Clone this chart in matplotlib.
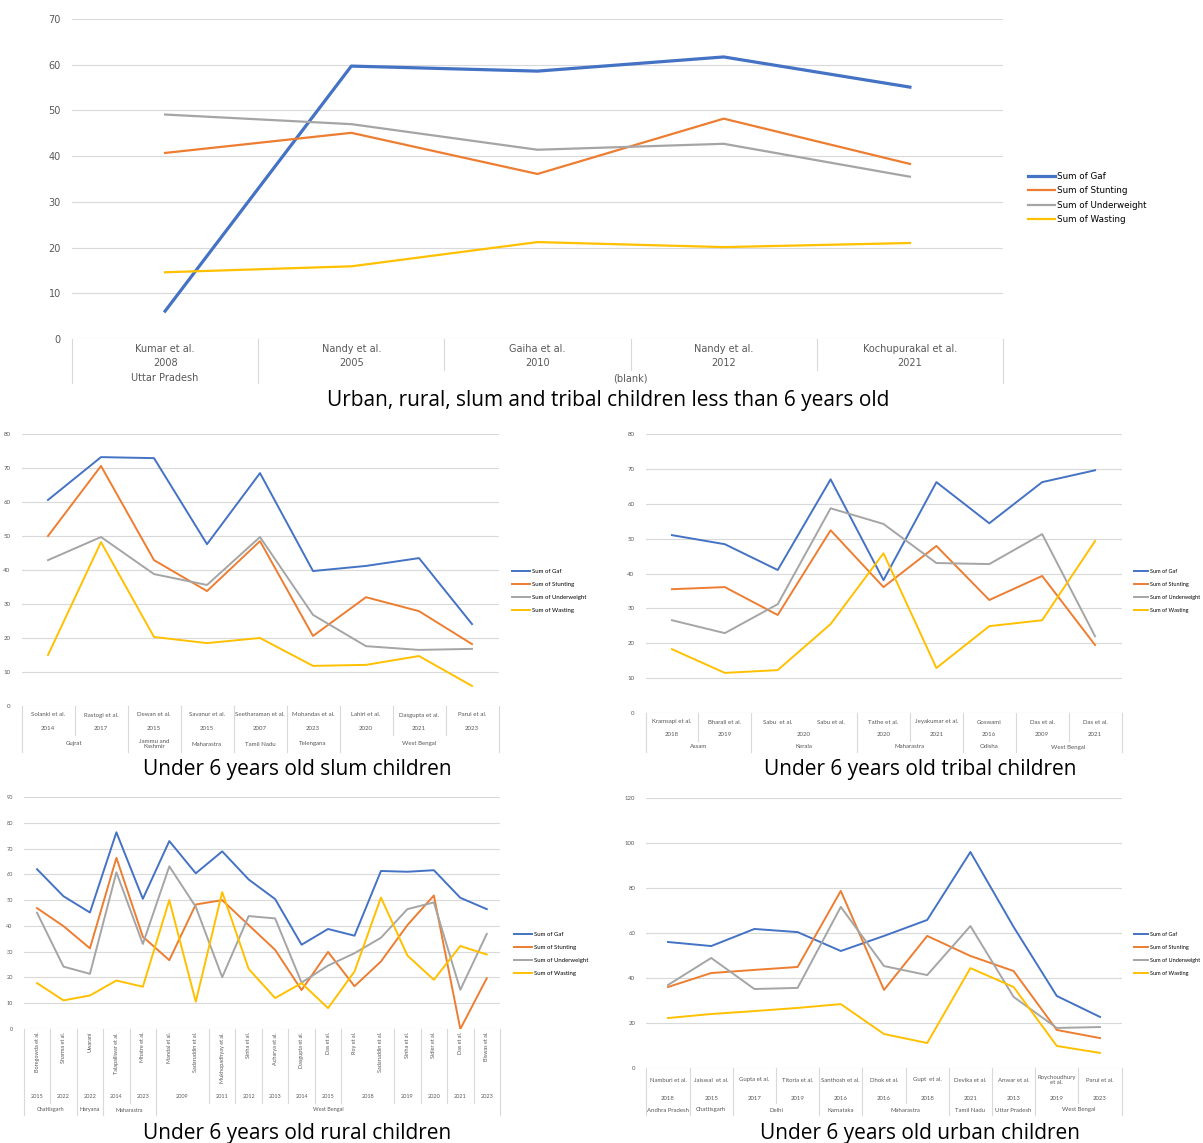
import matplotlib
matplotlib.use('Agg')
from matplotlib import pyplot as plt
from matplotlib import transforms

# ---- data ----
top_names = ['Kumar et al.', 'Nandy et al.', 'Gaiha et al.', 'Nandy et al.', 'Kochupurakal et al.']
top_years = ['2008', '2005', '2010', '2012', '2021']
top_states = ['Uttar Pradesh', '(blank)', '(blank)', '(blank)', '(blank)']
top_gaf = [6.1, 59.7, 58.6, 61.7, 55.1]
top_stunting = [40.7, 45.1, 36.1, 48.2, 38.3]
top_underweight = [49.1, 47.0, 41.4, 42.7, 35.5]
top_wasting = [14.6, 15.9, 21.2, 20.1, 21.0]

slum_names = ['Solanki et al.', 'Rastogi et al.', 'Dewan et al.', 'Savanur et al.', 'Seetharaman et al.',
              'Mohandas et al.', 'Lahiri et al.', 'Dasgupta et al.', 'Parui et al.']
slum_years = ['2014', '2017', '2015', '2015', '2007', '2023', '2020', '2021', '2023']
slum_states = ['Gujrat', 'Gujrat', 'Jammu and\nKashmir', 'Maharastra', 'Tamil Nadu', 'Telengana',
               'West Bengal', 'West Bengal', 'West Bengal']
slum_gaf = [60.6, 73.2, 72.9, 47.6, 68.5, 39.7, 41.2, 43.5, 24.1]
slum_stunting = [50.0, 70.6, 42.9, 33.8, 48.5, 20.6, 32.0, 27.9, 18.2]
slum_underweight = [42.9, 49.7, 38.8, 35.6, 49.7, 26.8, 17.6, 16.5, 16.8]
slum_wasting = [15.0, 48.2, 20.3, 18.5, 20.0, 11.8, 12.1, 14.7, 5.9]

tribal_names = ['Kramsapi et al.', 'Bharali et al.', 'Sabu  et al.', 'Sabu et al.', 'Tathe et al.',
                'Jeyakumar et al.', 'Goswami', 'Das et al.', 'Das et al.']
tribal_years = ['2018', '2019', '2020', '2020', '2020', '2021', '2016', '2009', '2021']
tribal_states = ['Assam', 'Assam', 'Kerala', 'Kerala', 'Maharastra', 'Maharastra', 'Odisha',
                 'West Bengal', 'West Bengal']
tribal_gaf = [51.0, 48.4, 41.0, 67.0, 38.1, 66.2, 54.4, 66.2, 69.6]
tribal_stunting = [35.5, 36.1, 28.1, 52.4, 36.1, 47.9, 32.4, 39.3, 19.5]
tribal_underweight = [26.6, 22.9, 31.2, 58.7, 54.2, 43.0, 42.7, 51.3, 22.0]
tribal_wasting = [18.3, 11.5, 12.3, 25.5, 45.8, 12.9, 24.9, 26.6, 49.3]

rural_names = ['Boregowda et al.', 'Sharma et al.', 'Uwarani', 'Talapalliwar et al.', 'Mhatre et al.',
               'Mandal et al.', 'Sadaruddin et al.', 'Mukhopadhyay et al.', 'Sinha et al.', 'Acharya et al.',
               'Dasgupta et al.', 'Das et al.', 'Roy et al.', 'Sadaruddin et al.', 'Sinha et al.',
               'Sidler et al.', 'Das et al.', 'Biswas et al.']
rural_years = ['2015', '2022', '2022', '2014', '2023', '2009', '2009', '2011', '2012', '2013',
               '2014', '2015', '2018', '2018', '2019', '2020', '2021', '2023']
rural_states = ['Chattisgarh', 'Chattisgarh', 'Haryana', 'Maharastra', 'Maharastra'] + ['West Bengal'] * 13
rural_gaf = [62.0, 51.5, 45.2, 76.3, 50.5, 72.9, 60.4, 68.9, 58.0, 50.4, 32.7, 38.8, 36.2, 61.3,
             61.0, 61.6, 50.9, 46.5]
rural_stunting = [46.9, 39.9, 31.3, 66.4, 35.8, 26.7, 48.3, 50.0, 40.3, 30.7, 15.1, 29.9, 16.6, 26.2,
                  40.3, 51.8, 0.0, 19.7]
rural_underweight = [45.1, 24.2, 21.4, 60.8, 33.0, 63.1, 47.4, 20.1, 43.8, 42.9, 18.0, 24.6, 29.4, 35.4,
                     46.5, 49.1, 15.2, 36.9]
rural_wasting = [17.8, 11.1, 13.0, 18.8, 16.4, 50.0, 10.6, 53.1, 23.3, 12.0, 17.8, 8.1, 22.3, 51.0,
                 28.5, 19.1, 32.2, 28.9]

urban_names = ['Namburi et al.', 'Jaiswal  et al.', 'Gupta et al.', 'Titoria et al.', 'Santhosh et al.',
               'Dhok et al.', 'Gupt  et al.', 'Devika et al.', 'Anwar et al.', 'Roychoudhury\net al.',
               'Parui et al.']
urban_years = ['2018', '2015', '2017', '2019', '2016', '2016', '2018', '2021', '2013', '2019', '2023']
urban_states = ['Andhra Pradesh', 'Chattisgarh', 'Delhi', 'Delhi', 'Karnataka', 'Maharastra', 'Maharastra',
                'Tamil Nadu', 'Uttar Pradesh', 'West Bengal', 'West Bengal']
urban_gaf = [56.0, 54.2, 61.8, 60.4, 52.0, 58.7, 65.8, 96.0, 62.7, 32.0, 22.7]
urban_stunting = [36.0, 42.2, 43.6, 44.9, 78.7, 34.7, 58.7, 49.8, 43.1, 16.9, 13.3]
urban_underweight = [36.9, 48.9, 35.1, 35.6, 71.6, 45.3, 41.3, 63.1, 31.6, 17.8, 18.2]
urban_wasting = [22.2, 24.0, 25.3, 26.7, 28.4, 15.1, 11.1, 44.4, 36.0, 9.8, 6.7]

series_labels = ['Sum of Gaf', 'Sum of Stunting', 'Sum of Underweight', 'Sum of Wasting']
colors = ['#4472C4', '#ED7D31', '#A5A5A5', '#FFC000']
grid_c = '#D9D9D9'
text_c = '#595959'

W, H = 1203, 1143
fig = plt.figure(figsize=(W / 100, H / 100), dpi=100)


def fy(py):
    return 1 - py / H


def make_ax(l, r, t, b):
    return fig.add_axes([l / W, 1 - b / H, (r - l) / W, (b - t) / H])


def runs(keys):
    out = []
    start = 0
    for i in range(1, len(keys) + 1):
        if i == len(keys) or keys[i] != keys[start]:
            out.append((start, i - 1, keys[start]))
            start = i
    return out


def panel(ax, names, years, states, data, ymax, ystep, rows, fs, font, lws,
          leg_x, leg_y, leg_fs, leg_hl, leg_sp, rotate=False):
    n = len(names)
    x = list(range(n))
    for vals, c, lab, lw in zip(data, colors, series_labels, lws):
        ax.plot(x, vals, color=c, lw=lw, label=lab, solid_joinstyle='round')
    ax.set_xlim(-0.5, n - 0.5)
    ax.set_ylim(0, ymax)
    ax.set_yticks(range(0, ymax + 1, ystep))
    ax.tick_params(axis='y', length=0, labelsize=fs, labelcolor=text_c, pad=8)
    for t in ax.get_yticklabels():
        t.set_fontfamily(font)
    ax.set_xticks([])
    ax.grid(axis='y', color=grid_c, lw=0.8)
    ax.set_axisbelow(True)
    for s in ax.spines.values():
        s.set_visible(False)

    tr = transforms.blended_transform_factory(ax.transData, fig.transFigure)
    kw = dict(transform=tr, ha='center', fontsize=fs, color=text_c, family=font)
    for i, nm in enumerate(names):
        if rotate:
            ax.text(i, fy(rows['name']), nm, va='top', rotation=90, **kw)
        else:
            ax.text(i, fy(rows['name']), nm, va='center', linespacing=1.1, **kw)
    pairs = [s + '|' + y for s, y in zip(states, years)]
    for a, b, k in runs(pairs):
        ax.text((a + b) / 2, fy(rows['year']), k.split('|')[1], va='center', **kw)
    for a, b, k in runs(states):
        ax.text((a + b) / 2, fy(rows['state']), k, va='center', linespacing=1.1, **kw)

    top = rows['top']
    for i in range(n + 1):
        if i == 0 or i == n or states[i] != states[i - 1]:
            bot = rows['state_bot']
        elif years[i] != years[i - 1]:
            bot = rows['year_bot']
        else:
            continue
        ax.plot([i - 0.5, i - 0.5], [fy(top), fy(bot)], transform=tr, color=grid_c,
                lw=0.8, clip_on=False)

    fig.legend(*ax.get_legend_handles_labels(), loc='center left',
               bbox_to_anchor=(leg_x / W, fy(leg_y)), frameon=False,
               handlelength=leg_hl, labelspacing=leg_sp, borderpad=0, handletextpad=0.3,
               prop={'family': font, 'size': leg_fs})


# top chart
ax0 = make_ax(72, 1003, 19, 339)
panel(ax0, top_names, top_years, top_states,
      [top_gaf, top_stunting, top_underweight, top_wasting], 70, 10,
      dict(top=339, name=349, year=363, state=378, year_bot=370, state_bot=383),
      7, 'DejaVu Sans', [2.3, 1.6, 1.6, 1.6], 1024, 198, 6.3, 3.0, 0.6)
fig.text(608 / W, fy(401), 'Urban, rural, slum and tribal children less than 6 years old',
         ha='center', va='center', fontsize=15, family='Open Sans', color='black')

# slum
ax1 = make_ax(21.5, 498.5, 434, 706)
panel(ax1, slum_names, slum_years, slum_states,
      [slum_gaf, slum_stunting, slum_underweight, slum_wasting], 80, 10,
      dict(top=706, name=715, year=728, state=744, year_bot=735, state_bot=752),
      4.4, 'Lato', [1.4] * 4, 509, 591, 4.3, 3.0, 1.3)
fig.text(297 / W, fy(769), 'Under 6 years old slum children',
         ha='center', va='center', fontsize=15, family='Open Sans', color='black')

# tribal
ax2 = make_ax(645.5, 1121.5, 434, 713)
panel(ax2, tribal_names, tribal_years, tribal_states,
      [tribal_gaf, tribal_stunting, tribal_underweight, tribal_wasting], 80, 10,
      dict(top=713, name=722, year=735, state=747, year_bot=741, state_bot=752),
      4.4, 'Lato', [1.4] * 4, 1131, 591, 4.0, 2.6, 1.45)
fig.text(920 / W, fy(769), 'Under 6 years old tribal children',
         ha='center', va='center', fontsize=15, family='Open Sans', color='black')

# rural
ax3 = make_ax(23.8, 500, 797, 1029)
panel(ax3, rural_names, rural_years, rural_states,
      [rural_gaf, rural_stunting, rural_underweight, rural_wasting], 90, 10,
      dict(top=1029, name=1032, year=1097, state=1110, year_bot=1103, state_bot=1115),
      4.0, 'Lato', [1.4] * 4, 511, 954, 4.3, 3.0, 1.3, rotate=True)
fig.text(297 / W, fy(1133), 'Under 6 years old rural children',
         ha='center', va='center', fontsize=15, family='Open Sans', color='black')

# urban
ax4 = make_ax(646.4, 1121.6, 798, 1068)
panel(ax4, urban_names, urban_years, urban_states,
      [urban_gaf, urban_stunting, urban_underweight, urban_wasting], 120, 20,
      dict(top=1068, name=1080, year=1098, state=1110, year_bot=1103, state_bot=1115),
      4.3, 'Lato', [1.4] * 4, 1131, 954, 4.0, 2.6, 1.45)
fig.text(920 / W, fy(1133), 'Under 6 years old urban children',
         ha='center', va='center', fontsize=15, family='Open Sans', color='black')

plt.savefig('out.png', dpi=100)
